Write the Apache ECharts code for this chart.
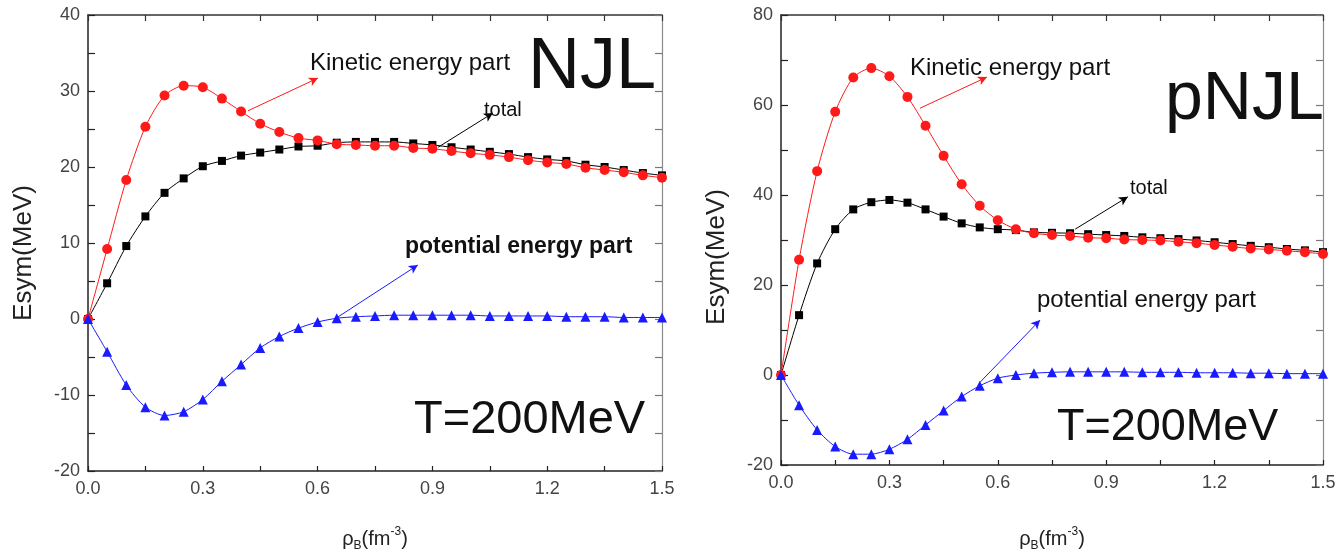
<!DOCTYPE html>
<html>
<head>
<meta charset="utf-8">
<title>Symmetry energy at T=200MeV: NJL and pNJL</title>
<script src="https://cdn.jsdelivr.net/npm/echarts@6/dist/echarts.min.js"></script>
<style>
  html, body { margin: 0; padding: 0; background: #fff; }
  #chart { width: 1339px; height: 557px; }
</style>
</head>
<body>
<div id="chart"></div>
<script>
// Baryon density grid, fm^-3
const rho = [0, 0.05, 0.1, 0.15, 0.2, 0.25, 0.3, 0.35, 0.4, 0.45, 0.5, 0.55, 0.6, 0.65, 0.7, 0.75,
             0.8, 0.85, 0.9, 0.95, 1.0, 1.05, 1.1, 1.15, 1.2, 1.25, 1.3, 1.35, 1.4, 1.45, 1.5];

// NJL model, Esym in MeV
const njlTotal = [0, 4.7, 9.6, 13.5, 16.6, 18.5, 20.1, 20.8, 21.5, 21.9, 22.3, 22.7, 22.8,
                  23.2, 23.3, 23.3, 23.3, 23.1, 22.9, 22.6, 22.3, 22.0, 21.7, 21.3, 21.0, 20.8,
                  20.3, 20.0, 19.6, 19.2, 18.9];
const njlKinetic = [0, 9.2, 18.3, 25.3, 29.4, 30.7, 30.5, 29.0, 27.3, 25.7, 24.6, 23.8, 23.5,
                    23.0, 22.9, 22.8, 22.8, 22.5, 22.4, 22.1, 21.8, 21.6, 21.3, 20.9, 20.6, 20.4,
                    19.9, 19.6, 19.3, 18.9, 18.6];
const njlPotential = [0, -4.3, -8.7, -11.6, -12.7, -12.2, -10.6, -8.2, -6.0, -3.8, -2.3, -1.2, -0.4,
                      0.1, 0.3, 0.4, 0.5, 0.5, 0.5, 0.5, 0.5, 0.4, 0.4, 0.4, 0.4, 0.3,
                      0.3, 0.3, 0.2, 0.2, 0.2];

// pNJL model, Esym in MeV
const pnjlTotal = [0, 13.3, 24.8, 32.4, 36.8, 38.4, 38.9, 38.3, 36.8, 35.2, 33.7, 32.8, 32.4,
                   32.2, 31.7, 31.6, 31.5, 31.3, 31.1, 30.9, 30.6, 30.4, 30.2, 29.9, 29.5, 29.1,
                   28.7, 28.4, 28.0, 27.7, 27.3];
const pnjlKinetic = [0, 25.6, 45.3, 58.5, 66.1, 68.2, 66.4, 61.8, 55.4, 48.7, 42.4, 37.6, 34.4,
                     32.4, 31.5, 31.1, 30.9, 30.5, 30.4, 30.1, 30.0, 29.9, 29.6, 29.3, 28.9, 28.5,
                     28.1, 27.9, 27.6, 27.3, 26.9];
const pnjlPotential = [0, -6.7, -12.2, -15.9, -17.6, -17.6, -16.5, -14.3, -11.1, -7.9, -4.8, -2.4, -0.7,
                       0.0, 0.4, 0.6, 0.7, 0.7, 0.7, 0.7, 0.6, 0.6, 0.6, 0.5, 0.5, 0.5,
                       0.4, 0.4, 0.3, 0.3, 0.3];

// Axis ranges and label steps
const xRange = { min: 0, max: 1.5, tick: 0.15, label: 0.3 };
const njlY = { min: -20, max: 40, tick: 5, label: 10 };
const pnjlY = { min: -20, max: 80, tick: 10, label: 20 };

// Annotation arrows, [from, to] in data units
const njlArrows = {
  kinetic: [[0.418, 27.4], [0.601, 31.7]],
  total: [[0.915, 22.6], [1.058, 27.1]],
  potential: [[0.645, 0.0], [0.862, 7.1]]
};
const pnjlArrows = {
  kinetic: [[0.385, 59.3], [0.570, 66.2]],
  total: [[0.814, 32.4], [0.960, 39.6]],
  potential: [[0.551, -1.6], [0.717, 12.2]]
};

const FONT = '"Liberation Sans", Arial, Helvetica, sans-serif';
const RED = '#ff1a1a', BLACK = '#000000', BLUE = '#1a1aff';

function pairs(ys) { return rho.map((x, i) => [x, ys[i]]); }

function labelEvery(step, base, digits) {
  return function (v) {
    const k = Math.round(v / base);
    const ratio = Math.round(step / base);
    return (k % ratio === 0) ? v.toFixed(digits) : '';
  };
}

function xAxes(gridIndex, nameGap) {
  const common = {
    type: 'value', gridIndex: gridIndex,
    min: xRange.min, max: xRange.max, interval: xRange.tick,
    splitLine: { show: false }
  };
  return [
    Object.assign({}, common, {
      position: 'bottom',
      axisLine: { onZero: false, lineStyle: { color: '#222', width: 1.5 } },
      axisTick: { inside: true, length: 5, lineStyle: { color: '#222', width: 1.2 } },
      axisLabel: {
        margin: 9, fontSize: 18, color: '#444', fontFamily: FONT,
        formatter: labelEvery(xRange.label, xRange.tick, 1)
      },
      name: '{i|ρ}{s|B}{i|(fm}{p|-3}{i|)}',
      nameLocation: 'middle',
      nameGap: nameGap,
      nameTextStyle: {
        fontFamily: FONT,
        rich: {
          i: { fontSize: 20, color: '#222', fontFamily: FONT, lineHeight: 26 },
          s: { fontSize: 12, color: '#222', fontFamily: FONT, verticalAlign: 'bottom' },
          p: { fontSize: 12, color: '#222', fontFamily: FONT, verticalAlign: 'top' }
        }
      }
    }),
    Object.assign({}, common, {
      position: 'top',
      axisLine: { onZero: false, lineStyle: { color: '#333', width: 1.5 } },
      axisTick: { inside: true, length: 6, lineStyle: { color: '#333', width: 1.2 } },
      axisLabel: { show: false }
    })
  ];
}

function yAxes(gridIndex, r) {
  const common = {
    type: 'value', gridIndex: gridIndex,
    min: r.min, max: r.max, interval: r.tick,
    splitLine: { show: false }
  };
  return [
    Object.assign({}, common, {
      position: 'left',
      axisLine: { onZero: false, lineStyle: { color: '#222', width: 1.5 } },
      axisTick: { inside: true, length: 7, lineStyle: { color: '#222', width: 1.2 } },
      axisLabel: {
        margin: 8, fontSize: 18, color: '#444', fontFamily: FONT,
        formatter: labelEvery(r.label, r.tick, 0)
      }
    }),
    Object.assign({}, common, {
      position: 'right',
      axisLine: { onZero: false, lineStyle: { color: '#8a8a8a', width: 1.2 } },
      axisTick: { inside: true, length: 7, lineStyle: { color: '#777', width: 1.2 } },
      axisLabel: { show: false }
    })
  ];
}

function arrow(seg, color) {
  return {
    silent: true,
    symbol: ['none', 'arrow'],
    symbolSize: [7, 9],
    label: { show: false },
    lineStyle: { color: color, width: 1, type: 'solid' },
    emphasis: { disabled: true },
    data: [[{ coord: seg[0] }, { coord: seg[1] }]]
  };
}

function curve(name, ys, xi, yi, color, symbol, size, seg) {
  return {
    name: name, type: 'line',
    xAxisIndex: xi, yAxisIndex: yi,
    data: pairs(ys),
    smooth: 0.25,
    symbol: symbol, symbolSize: size, showAllSymbol: true,
    lineStyle: { color: color, width: 1 },
    itemStyle: { color: color, borderWidth: 0 },
    markLine: arrow(seg, color)
  };
}

function txt(x, y, text, size, opts) {
  opts = opts || {};
  return {
    type: 'text', x: x, y: y, rotation: opts.rotation || 0, z: 100,
    style: {
      text: text, fill: opts.color || '#111',
      fontSize: size, fontFamily: FONT, fontWeight: opts.weight || 'normal',
      align: opts.align || 'left', verticalAlign: 'middle',
      textAlign: opts.align || 'left', textVerticalAlign: 'middle'
    }
  };
}

const chart = echarts.init(document.getElementById('chart'), null, { renderer: 'canvas' });

chart.setOption({
  animation: false,
  backgroundColor: '#ffffff',
  grid: [
    { left: 88, top: 15, width: 574, height: 456 },
    { left: 781, top: 15, width: 542, height: 450 }
  ],
  xAxis: xAxes(0, 55).concat(xAxes(1, 61)),
  yAxis: yAxes(0, njlY).concat(yAxes(1, pnjlY)),
  series: [
    curve('total', njlTotal, 0, 0, BLACK, 'rect', 8, njlArrows.total),
    curve('Kinetic energy part', njlKinetic, 0, 0, RED, 'circle', 10, njlArrows.kinetic),
    curve('potential energy part', njlPotential, 0, 0, BLUE, 'triangle', 10, njlArrows.potential),
    curve('total', pnjlTotal, 2, 2, BLACK, 'rect', 8, pnjlArrows.total),
    curve('Kinetic energy part', pnjlKinetic, 2, 2, RED, 'circle', 10, pnjlArrows.kinetic),
    curve('potential energy part', pnjlPotential, 2, 2, BLUE, 'triangle', 10, pnjlArrows.potential)
  ],
  graphic: [
    // axis titles
    txt(24, 253, 'Esym(MeV)', 26, { rotation: Math.PI / 2, align: 'center', color: '#222' }),
    txt(717, 257, 'Esym(MeV)', 26, { rotation: Math.PI / 2, align: 'center', color: '#222' }),
    // NJL panel
    txt(310, 63, 'Kinetic energy part', 24),
    txt(484, 110, 'total', 20),
    txt(405, 247, 'potential energy part', 23, { weight: 'bold' }),
    txt(528, 68, 'NJL', 72),
    txt(414, 420, 'T=200MeV', 47),
    // pNJL panel
    txt(910, 68, 'Kinetic energy part', 24),
    txt(1130, 188, 'total', 20),
    txt(1037, 300, 'potential energy part', 24),
    txt(1165, 100, 'pNJL', 68),
    txt(1057, 428, 'T=200MeV', 45)
  ]
});
</script>
</body>
</html>
